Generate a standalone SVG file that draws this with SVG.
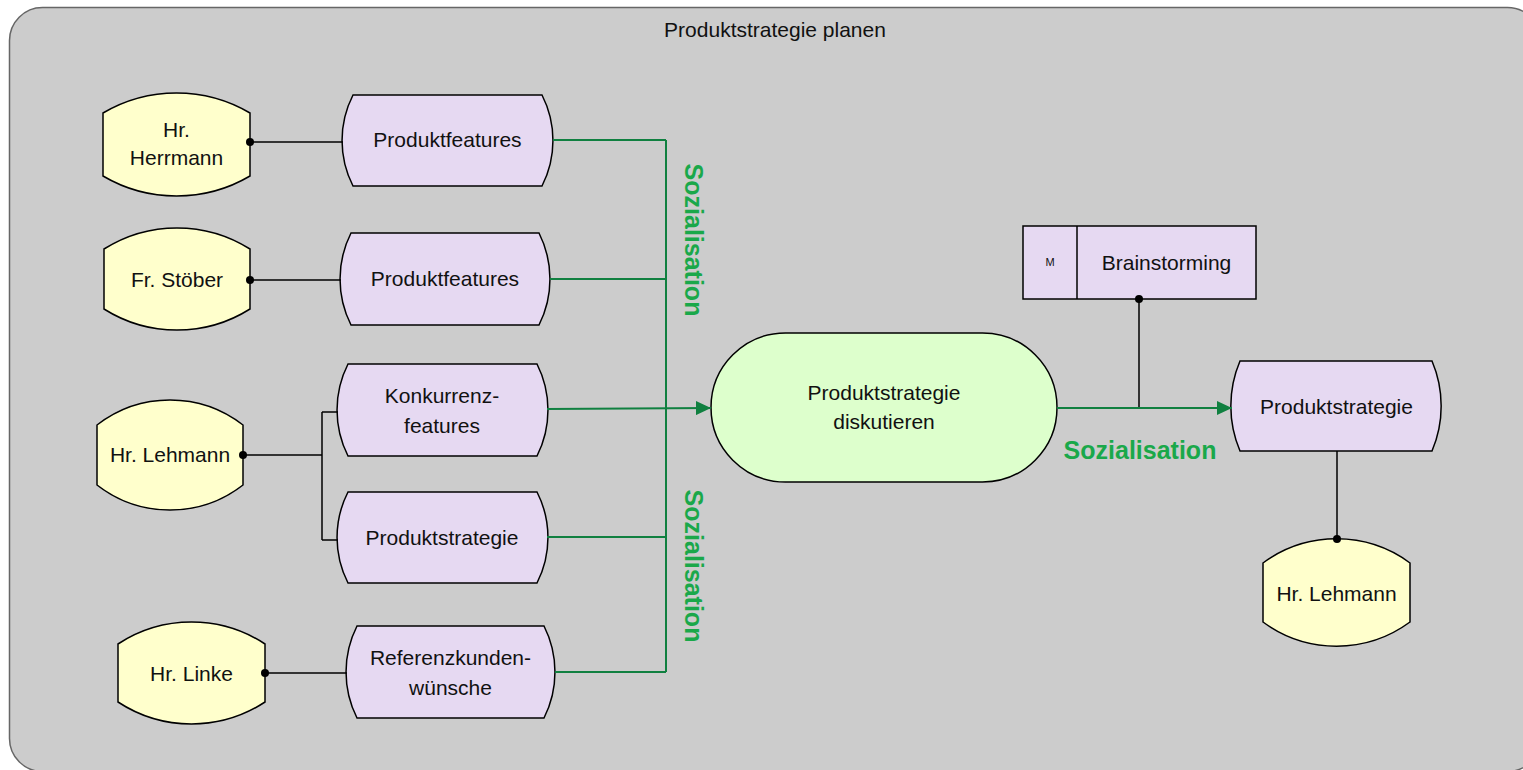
<svg xmlns="http://www.w3.org/2000/svg" width="1523" height="770" viewBox="0 0 1523 770">
  <style>
    .lbl { font-family: "Liberation Sans", Arial, sans-serif; font-size: 21px; fill: #111; text-anchor: middle; }
    .small { font-family: "Liberation Sans", Arial, sans-serif; font-size: 11px; fill: #111; text-anchor: middle; }
    .soz { font-family: "Liberation Sans", Arial, sans-serif; font-size: 25px; font-weight: bold; fill: #1aa84a; text-anchor: middle; }
    .person { fill: #ffffcc; stroke: #000; stroke-width: 1.5; }
    .info { fill: #e6d9f2; stroke: #000; stroke-width: 1.5; }
    .task { fill: #ddffcc; stroke: #000; stroke-width: 1.5; }
    .blk { fill: none; stroke: #000; stroke-width: 1.5; }
    .grn { fill: none; stroke: #108040; stroke-width: 2; }
    .dot { fill: #000; }
  </style>
  <defs>
    <marker id="arrow" markerUnits="userSpaceOnUse" markerWidth="16" markerHeight="14" refX="15" refY="7" orient="auto">
      <path d="M0,0 L15,7 L0,14 Z" fill="#108040"/>
    </marker>
  </defs>

  <rect width="1523" height="770" fill="#ffffff"/>

  <!-- lane -->
  <g id="lane">
    <rect x="9.5" y="7.5" width="1531" height="764" rx="33" fill="#cccccc" stroke="#666" stroke-width="1.5"/>
    <text class="lbl" x="775" y="37">Produktstrategie planen</text>
  </g>

  <!-- people -->
  <g id="herrmann">
    <path class="person" d="M103,113 A145,145 0 0 1 250,113 L250,176 A145,145 0 0 1 103,176 Z"/>
    <text class="lbl" x="176.5" y="137">Hr.</text>
    <text class="lbl" x="176.5" y="165">Herrmann</text>
  </g>
  <g id="stoeber">
    <path class="person" d="M104,249 A137,137 0 0 1 250,249 L250,309 A137,137 0 0 1 104,309 Z"/>
    <text class="lbl" x="177" y="287">Fr. Stöber</text>
  </g>
  <g id="lehmann-left">
    <path class="person" d="M97,425 A119,119 0 0 1 243,425 L243,485 A119,119 0 0 1 97,485 Z"/>
    <text class="lbl" x="170" y="462">Hr. Lehmann</text>
  </g>
  <g id="linke">
    <path class="person" d="M118,644 A134,134 0 0 1 265,644 L265,702 A134,134 0 0 1 118,702 Z"/>
    <text class="lbl" x="191.5" y="681">Hr. Linke</text>
  </g>
  <g id="lehmann-right">
    <path class="person" d="M1263,563 A124,124 0 0 1 1410,563 L1410,622 A124,124 0 0 1 1263,622 Z"/>
    <text class="lbl" x="1336.5" y="601">Hr. Lehmann</text>
  </g>

  <!-- information objects -->
  <g id="features-1">
    <path class="info" d="M353,95 L542,95 A100,100 0 0 1 542,186 L353,186 A100,100 0 0 1 353,95 Z"/>
    <text class="lbl" x="447.5" y="147">Produktfeatures</text>
  </g>
  <g id="features-2">
    <path class="info" d="M351,233 L539,233 A102,102 0 0 1 539,325 L351,325 A102,102 0 0 1 351,233 Z"/>
    <text class="lbl" x="445" y="286">Produktfeatures</text>
  </g>
  <g id="competitor-features">
    <path class="info" d="M348,364 L537,364 A102,102 0 0 1 537,456 L348,456 A102,102 0 0 1 348,364 Z"/>
    <text class="lbl" x="442" y="403">Konkurrenz-</text>
    <text class="lbl" x="442" y="433">features</text>
  </g>
  <g id="strategy-left">
    <path class="info" d="M348,492 L537,492 A100,100 0 0 1 537,583 L348,583 A100,100 0 0 1 348,492 Z"/>
    <text class="lbl" x="442" y="545">Produktstrategie</text>
  </g>
  <g id="reference-wishes">
    <path class="info" d="M357,626 L544,626 A102,102 0 0 1 544,718 L357,718 A102,102 0 0 1 357,626 Z"/>
    <text class="lbl" x="450.5" y="665">Referenzkunden-</text>
    <text class="lbl" x="450.5" y="695">wünsche</text>
  </g>
  <g id="strategy-right">
    <path class="info" d="M1240,361 L1432,361 A115,115 0 0 1 1432,451 L1240,451 A115,115 0 0 1 1240,361 Z"/>
    <text class="lbl" x="1336.5" y="414">Produktstrategie</text>
  </g>

  <!-- method -->
  <g id="brainstorming">
    <rect class="info" x="1023" y="226" width="233" height="73"/>
    <path class="blk" d="M1077,226 V299"/>
    <text class="small" x="1050" y="266">M</text>
    <text class="lbl" x="1166.5" y="270">Brainstorming</text>
  </g>

  <!-- function -->
  <g id="discuss">
    <rect class="task" x="711" y="333" width="346" height="149" rx="74.5"/>
    <text class="lbl" x="884" y="400">Produktstrategie</text>
    <text class="lbl" x="884" y="429">diskutieren</text>
  </g>

  <!-- connectors -->
  <g id="connectors">
    <path class="blk" d="M250,142 H343"/>
    <path class="blk" d="M250,280 H341"/>
    <path class="blk" d="M243,455 H322 M322,412 V540 M322,412 H338 M322,540 H338"/>
    <path class="blk" d="M265,673 H347"/>
    <path class="blk" d="M1139,299 V408"/>
    <path class="blk" d="M1337,451 V539"/>
    <circle class="dot" cx="250" cy="142" r="4"/>
    <circle class="dot" cx="250" cy="280" r="4"/>
    <circle class="dot" cx="243" cy="455" r="4"/>
    <circle class="dot" cx="265" cy="673" r="4"/>
    <circle class="dot" cx="1139" cy="299" r="4"/>
    <circle class="dot" cx="1337" cy="539" r="4"/>

    <path class="grn" d="M553,140 H666 M550,279 H666 M547,537 H666 M555,672 H666 M666,140 V672"/>
    <path class="grn" d="M547,409 L711,408" marker-end="url(#arrow)"/>
    <path class="grn" d="M1057,408 H1232" marker-end="url(#arrow)"/>

    <text class="soz" transform="translate(685,240) rotate(90)">Sozialisation</text>
    <text class="soz" transform="translate(685,566) rotate(90)">Sozialisation</text>
    <text class="soz" x="1140" y="459">Sozialisation</text>
  </g>
</svg>
